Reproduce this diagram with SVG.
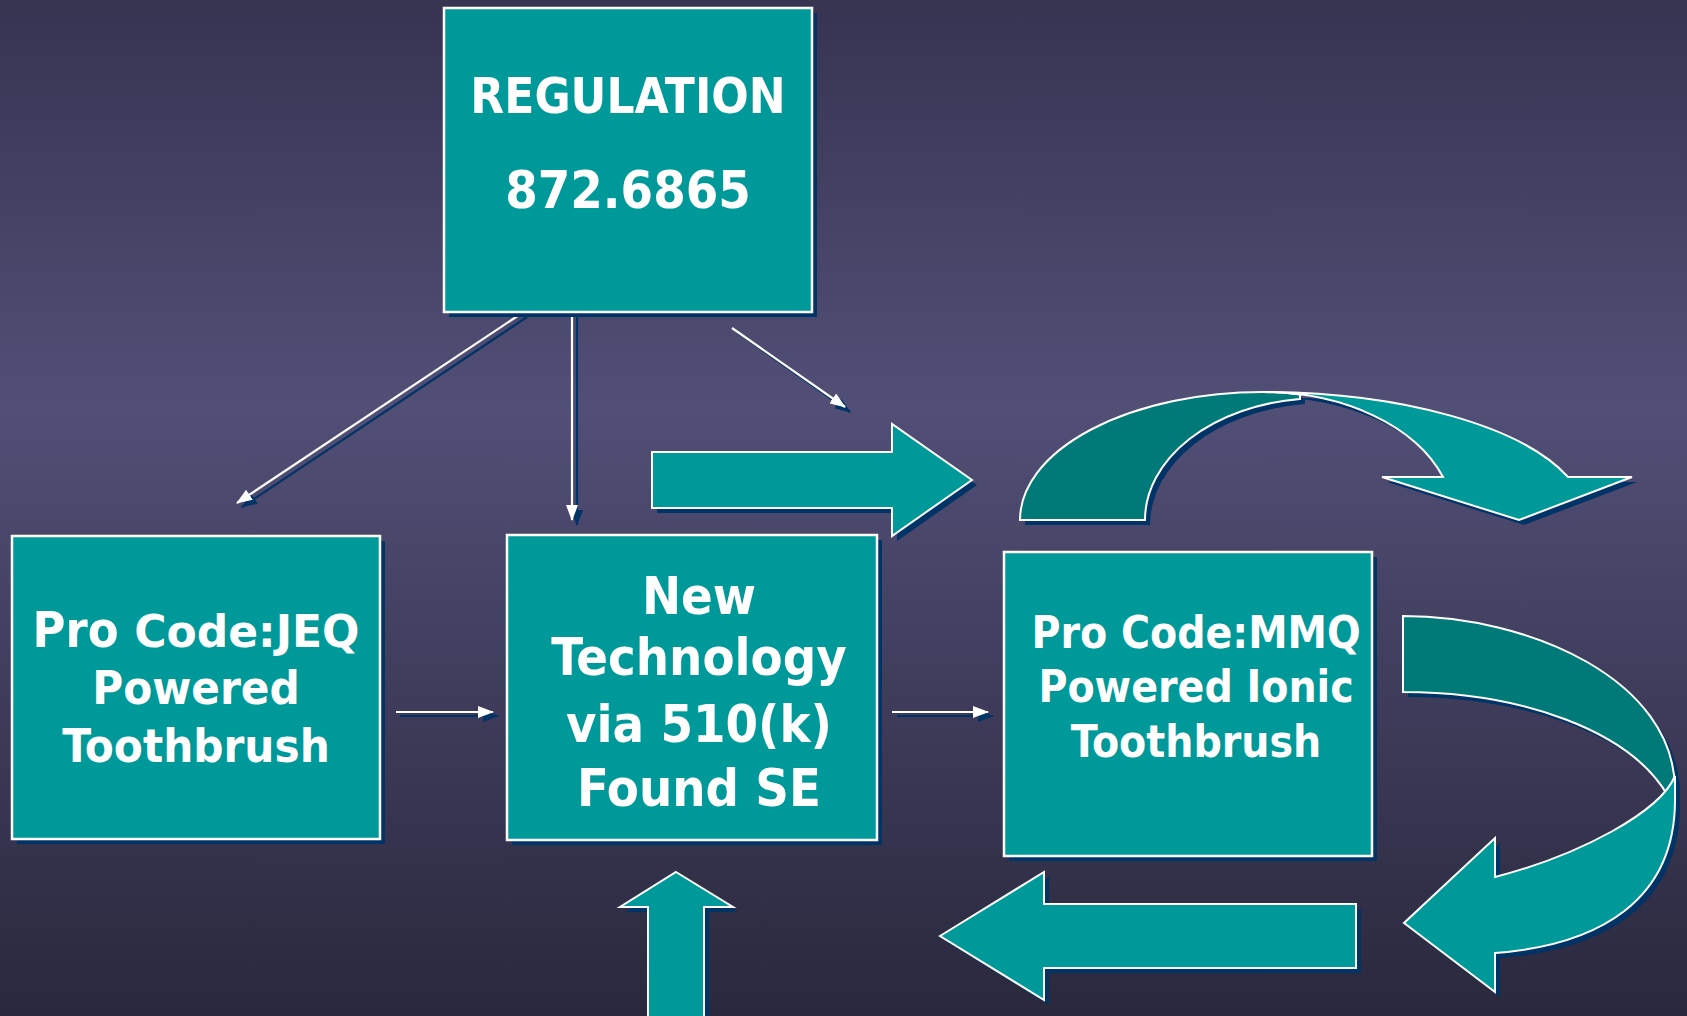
<svg xmlns="http://www.w3.org/2000/svg" xmlns:xlink="http://www.w3.org/1999/xlink" width="1687" height="1016" viewBox="0 0 1687 1016">
<defs>
<linearGradient id="bg" x1="0" y1="0" x2="0" y2="1">
<stop offset="0" stop-color="#363451"/>
<stop offset="0.4" stop-color="#524f77"/>
<stop offset="1" stop-color="#29283c"/>
</linearGradient>
<marker id="ah" viewBox="0 0 16 12" refX="15" refY="6" markerWidth="16" markerHeight="12" markerUnits="userSpaceOnUse" orient="auto">
<path d="M0,0 L16,6 L0,12 Z" fill="#ffffff"/>
</marker>
<marker id="ahs" viewBox="0 0 16 12" refX="15" refY="6" markerWidth="16" markerHeight="12" markerUnits="userSpaceOnUse" orient="auto">
<path d="M0,0 L16,6 L0,12 Z" fill="#003366"/>
</marker>
<path id="blkRight" d="M652,452 L892,452 L892,424 L972,480 L892,536 L892,508 L652,508 Z"/>
<path id="blkUp" d="M676,872 L733,907 L704,907 L704,1022 L648,1022 L648,907 L620,907 Z"/>
<path id="blkLeft" d="M940,936 L1044,872 L1044,904 L1356,904 L1356,968 L1044,968 L1044,1000 Z"/>
<path id="topBack" d="M1020,520 A243,128 0 0 1 1263,392 A191,128 0 0 1 1300,394.5 L1300,399 A175,122 0 0 0 1145,520 Z"/>
<path id="topFront" d="M1263,392 A324,128 0 0 1 1568,477 L1632,477 L1519,520 L1382,477 L1443,477 A191,128 0 0 0 1263,392 Z"/>
<path id="rightBack" d="M1403,616 C1530,616 1675,680 1675,790 L1668,796 C1630,730 1520,692 1403,692 Z"/>
<path id="rightFront" d="M1675,776 L1675,800 C1675,900 1600,945 1495,953 L1495,992 L1404,923 L1495,838 L1495,877 C1580,855 1660,812 1675,776 Z"/>
<style>
.box{fill:#009999;stroke:#ffffff;stroke-width:2.5}
.shadow{fill:#003366;stroke:none}
.back{fill:#007a78;stroke:#ffffff;stroke-width:2}
.front{fill:#009999;stroke:#ffffff;stroke-width:2}
.ln{stroke:#ffffff;stroke-width:2.2;fill:none;marker-end:url(#ah)}
.lns{stroke:#003366;stroke-width:2.2;fill:none;marker-end:url(#ahs)}
.t{font-family:'DejaVu Sans Condensed','DejaVu Sans',sans-serif;font-weight:bold;font-stretch:condensed;fill:#ffffff;text-anchor:middle}
.wide{font-family:'DejaVu Sans',sans-serif;font-stretch:normal}
</style>
</defs>
<rect x="0" y="0" width="1687" height="1016" fill="url(#bg)"/>

<g id="connectors">
<line class="lns" x1="527" y1="317" x2="242" y2="507"/>
<line class="lns" x1="577" y1="317" x2="577" y2="525"/>
<line class="lns" x1="737" y1="332" x2="850" y2="412"/>
<line class="lns" x1="400" y1="716" x2="498" y2="716"/>
<line class="lns" x1="897" y1="716" x2="993" y2="716"/>
<line class="ln" x1="522" y1="313" x2="237" y2="503"/>
<line class="ln" x1="572" y1="313" x2="572" y2="520"/>
<line class="ln" x1="732" y1="328" x2="845" y2="407"/>
<line class="ln" x1="396" y1="712" x2="493" y2="712"/>
<line class="ln" x1="892" y1="712" x2="988" y2="712"/>

<g id="block-arrow-right">
<use xlink:href="#blkRight" class="shadow" transform="translate(5,5)"/>
<use xlink:href="#blkRight" class="front"/>
</g>
<g id="block-arrow-up">
<use xlink:href="#blkUp" class="shadow" transform="translate(5,5)"/>
<use xlink:href="#blkUp" class="front"/>
</g>
<g id="block-arrow-left">
<use xlink:href="#blkLeft" class="shadow" transform="translate(5,5)"/>
<use xlink:href="#blkLeft" class="front"/>
</g>
<g id="curved-arrow-top">
<use xlink:href="#topBack" class="shadow" transform="translate(5,5)"/>
<use xlink:href="#topFront" class="shadow" transform="translate(5,5)"/>
<use xlink:href="#topBack" class="back"/>
<use xlink:href="#topFront" class="front"/>
</g>
<g id="curved-arrow-right">
<use xlink:href="#rightBack" class="shadow" transform="translate(5,5)"/>
<use xlink:href="#rightFront" class="shadow" transform="translate(5,5)"/>
<use xlink:href="#rightBack" class="back"/>
<use xlink:href="#rightFront" class="front"/>
</g>
</g>

<g id="node-regulation">
<rect class="shadow" x="449" y="13" width="368" height="304"/>
<rect class="box" x="444" y="8" width="368" height="304"/>
<text class="t" x="628" y="113" font-size="49">REGULATION</text>
<text class="t" x="628" y="208" font-size="52">872.6865</text>
</g>

<g id="node-jeq">
<rect class="shadow" x="17" y="541" width="368" height="303"/>
<rect class="box" x="12" y="536" width="368" height="303"/>
<text class="t" x="196" y="647" font-size="50">Pro <tspan class="wide" font-size="44">Code:JEQ</tspan></text>
<text class="t" x="196" y="704" font-size="47">Powered</text>
<text class="t" x="196" y="762" font-size="47">Toothbrush</text>
</g>

<g id="node-new-tech">
<rect class="shadow" x="512" y="540" width="370" height="305"/>
<rect class="box" x="507" y="535" width="370" height="305"/>
<text class="t" x="699" y="614" font-size="52">New</text>
<text class="t" x="699" y="675" font-size="52">Technology</text>
<text class="t" x="699" y="742" font-size="52">via 510(k)</text>
<text class="t" x="699" y="806" font-size="52">Found SE</text>
</g>

<g id="node-mmq">
<rect class="shadow" x="1009" y="557" width="368" height="304"/>
<rect class="box" x="1004" y="552" width="368" height="304"/>
<text class="t" x="1196" y="648" font-size="44">Pro Code:MMQ</text>
<text class="t" x="1196" y="702" font-size="44">Powered Ionic</text>
<text class="t" x="1196" y="757" font-size="44">Toothbrush</text>
</g>
</svg>
